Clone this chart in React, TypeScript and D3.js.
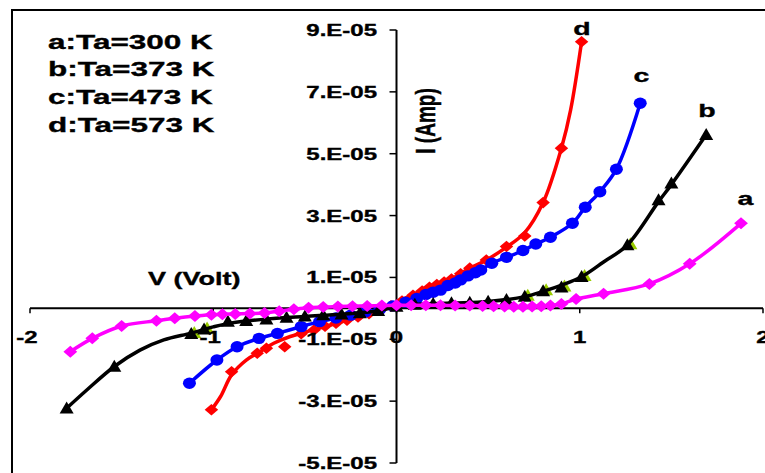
import React from 'react';
import * as d3 from 'd3';

// ---------- data (I in units of 1E-05 A, V in volt) ----------
const xTicks = [-2, -1, 0, 1, 2];
const yTicks = [-5, -3, -1, 1, 3, 5, 7, 9];
const yTickLabels = ['-5.E-05', '-3.E-05', '-1.E-05', '1.E-05', '3.E-05', '5.E-05', '7.E-05', '9.E-05'];
const legendLabels = ['a:Ta=300 K', 'b:Ta=373 K', 'c:Ta=473 K', 'd:Ta=573 K'];
const curveNames = ['a', 'b', 'c', 'd'];

// a: 300 K (magenta diamonds)
const aV = [-1.78, -1.66, -1.50, -1.31, -1.21, -1.10, -1.01, -0.95, -0.88, -0.80, -0.72, -0.64, -0.56, -0.48, -0.40, -0.32, -0.24, -0.16, -0.08, 0.00, 0.08, 0.16, 0.24, 0.32, 0.40, 0.47, 0.53, 0.59, 0.64, 0.69, 0.74, 0.79, 0.84, 0.90, 0.98, 1.13, 1.38, 1.60, 1.88];
const aI = [-1.40, -0.97, -0.57, -0.40, -0.32, -0.25, -0.21, -0.19, -0.18, -0.17, -0.15, -0.09, -0.03, 0.02, 0.04, 0.06, 0.07, 0.08, 0.09, 0.10, 0.10, 0.10, 0.10, 0.09, 0.09, 0.08, 0.07, 0.06, 0.05, 0.05, 0.06, 0.07, 0.09, 0.14, 0.30, 0.47, 0.79, 1.44, 2.75];

// b: 373 K (black triangles)
const bV = [-1.80, -1.54, -1.12, -1.05, -0.92, -0.82, -0.71, -0.60, -0.50, -0.40, -0.30, -0.20, -0.10, 0.00, 0.10, 0.20, 0.30, 0.40, 0.50, 0.60, 0.70, 0.80, 0.90, 1.01, 1.26, 1.43, 1.50, 1.69];
const bI = [-3.23, -1.88, -0.82, -0.68, -0.43, -0.40, -0.35, -0.30, -0.26, -0.22, -0.19, -0.15, -0.08, 0.06, 0.12, 0.15, 0.17, 0.19, 0.22, 0.28, 0.38, 0.56, 0.68, 1.02, 2.05, 3.50, 4.04, 5.61];
const bLineV = [-1.80, -1.69, -1.54, -1.40, -1.27, -1.12, -1.00, -0.90, -0.70, -0.50, -0.30, -0.10, 0.00, 0.10, 0.30, 0.50, 0.70, 0.80, 0.90, 1.01, 1.13, 1.26, 1.43, 1.50, 1.69];
const bLineI = [-3.23, -2.64, -1.88, -1.35, -1.02, -0.80, -0.60, -0.47, -0.34, -0.26, -0.19, -0.08, 0.06, 0.12, 0.17, 0.22, 0.38, 0.55, 0.75, 1.02, 1.50, 2.05, 3.45, 4.00, 5.61];
// yellow-green triangles peeking out behind some black ones
const gV = [-1.12, -1.05, 0.70, 0.80, 0.90, 1.01, 1.26];
const gI = [-0.82, -0.68, 0.38, 0.56, 0.68, 1.02, 2.05];

// c: 473 K (blue circles)
const cV = [-1.13, -0.98, -0.87, -0.75, -0.65, -0.52, -0.42, -0.33, -0.25, -0.17, -0.09, -0.02, 0.05, 0.11, 0.16, 0.20, 0.24, 0.28, 0.32, 0.35, 0.39, 0.43, 0.46, 0.52, 0.60, 0.69, 0.76, 0.84, 0.96, 1.03, 1.11, 1.20, 1.33];
const cI = [-2.42, -1.67, -1.24, -0.97, -0.81, -0.59, -0.43, -0.31, -0.22, -0.12, -0.03, 0.08, 0.20, 0.32, 0.45, 0.52, 0.59, 0.74, 0.82, 0.92, 1.05, 1.15, 1.24, 1.46, 1.65, 1.87, 2.08, 2.30, 2.75, 3.27, 3.77, 4.50, 6.63];

// d: 573 K (red diamonds)
const dV = [-1.01, -0.90, -0.76, -0.71, -0.61, -0.52, -0.45, -0.39, -0.33, -0.27, -0.21, -0.15, -0.09, -0.03, 0.03, 0.09, 0.14, 0.18, 0.22, 0.26, 0.30, 0.35, 0.40, 0.49, 0.60, 0.70, 0.80, 0.90, 1.01];
const dI = [-3.28, -2.05, -1.45, -1.29, -1.24, -0.82, -0.70, -0.58, -0.48, -0.38, -0.28, -0.17, -0.06, 0.08, 0.24, 0.42, 0.56, 0.68, 0.77, 0.85, 0.95, 1.12, 1.30, 1.56, 2.00, 2.34, 3.42, 5.18, 8.62];
const dLineV = [-1.01, -0.96, -0.90, -0.82, -0.745, -0.67, -0.58, -0.47, -0.36, -0.25, -0.13, -0.04, 0.09, 0.18, 0.30, 0.40, 0.49, 0.60, 0.70, 0.80, 0.90, 0.95, 1.01];
const dLineI = [-3.28, -2.85, -2.15, -1.67, -1.40, -1.13, -0.91, -0.72, -0.54, -0.35, -0.14, 0.08, 0.45, 0.68, 0.96, 1.30, 1.56, 1.98, 2.45, 3.42, 5.18, 6.41, 8.62];

// ---------- layout ----------
const W = 765, H = 473;
const SX = 1.5; // horizontal stretch of the original picture
const FONT = "'Liberation Sans', Arial, Helvetica, sans-serif";

const x = d3.scaleLinear().domain([-2, 2]).range([30, 763]);
const y = d3.scaleLinear().domain([-5, 9]).range([463, 30]);

const zip = (vs: number[], is: number[]) => vs.map((v, i) => [v, is[i]] as [number, number]);
const lineGen = d3.line<[number, number]>().x(d => x(d[0])).y(d => y(d[1])).curve(d3.curveCatmullRom.alpha(0.5));

const diamond = (hw: number, hh: number) => `M0,${-hh}L${hw},0L0,${hh}L${-hw},0Z`;
const triangle = 'M0,-6.8L7,5.2L-7,5.2Z';

function T(props: { x: number; y: number; size: number; anchor?: string; rotate?: boolean; children: React.ReactNode }) {
  const { x: tx, y: ty, size, anchor = 'start', rotate = false, children } = props;
  return (
    <g transform={`translate(${tx},${ty}) scale(${SX},1)${rotate ? ' rotate(-90)' : ''}`}>
      <text textAnchor={anchor as any} fontSize={size} fontWeight="bold" fontFamily={FONT} fill="#000" stroke="#000" strokeWidth={0.35}>{children}</text>
    </g>
  );
}

export default function App() {
  const x0 = x(0), y0 = y(0);
  const aPts = zip(aV, aI), bPts = zip(bV, bI), cPts = zip(cV, cI), dPts = zip(dV, dI);
  const gPts = zip(gV, gI);
  return (
    <svg width={W} height={H} style={{ position: 'absolute', left: 0, top: 0, background: '#fff' }}>
      <rect x={0} y={0} width={W} height={H} fill="#fff" />
      {/* outer frame */}
      <rect x={12} y={10} width={900} height={600} fill="none" stroke="#000" strokeWidth={2} />

      {/* axes */}
      <line x1={x(-2)} x2={x(2)} y1={y0} y2={y0} stroke="#000" strokeWidth={2} />
      <line x1={x0} x2={x0} y1={y(9)} y2={y(-5)} stroke="#000" strokeWidth={2} />
      {xTicks.map(t => (
        <line key={'xt' + t} x1={x(t)} x2={x(t)} y1={y0} y2={y0 + 5} stroke="#000" strokeWidth={1.5} />
      ))}
      {yTicks.map(t => (
        <line key={'yt' + t} x1={x0 - 7} x2={x0} y1={y(t)} y2={y(t)} stroke="#000" strokeWidth={1.5} />
      ))}

      {/* series: d red */}
      <path d={lineGen(zip(dLineV, dLineI)) || ''} fill="none" stroke="#FF0000" strokeWidth={3.5} />
      {dPts.map((p, i) => (
        <path key={'d' + i} d={diamond(4.5, 5.8)} transform={`translate(${x(p[0])},${y(p[1])}) scale(${SX},1)`} fill="#FF0000" />
      ))}

      {/* series: c blue */}
      <path d={lineGen(cPts) || ''} fill="none" stroke="#0000FF" strokeWidth={3.5} />
      {cPts.map((p, i) => (
        <ellipse key={'c' + i} cx={x(p[0])} cy={y(p[1])} rx={6.5} ry={5.7} fill="#0000FF" />
      ))}

      {/* series: b black */}
      {gPts.map((p, i) => (
        <path key={'g' + i} d={triangle} transform={`translate(${x(p[0]) + 3},${y(p[1]) - 1})`} fill="#99CC00" />
      ))}
      <path d={lineGen(zip(bLineV, bLineI)) || ''} fill="none" stroke="#000" strokeWidth={3.5} />
      {bPts.map((p, i) => (
        <path key={'b' + i} d={triangle} transform={`translate(${x(p[0])},${y(p[1])})`} fill="#000" />
      ))}

      {/* series: a magenta */}
      <path d={lineGen(aPts) || ''} fill="none" stroke="#FF00FF" strokeWidth={3.5} />
      {aPts.map((p, i) => (
        <path key={'a' + i} d={diamond(4.6, 6)} transform={`translate(${x(p[0])},${y(p[1])}) scale(${SX},1)`} fill="#FF00FF" />
      ))}

      {/* tick labels */}
      {yTicks.map((t, i) => (
        <T key={'yl' + t} x={377} y={y(t) + 6} size={16} anchor="end">{yTickLabels[i]}</T>
      ))}
      {xTicks.map(t => (
        <T key={'xl' + t} x={x(t) - (t < 0 ? 3 : 0)} y={343} size={16} anchor="middle">{String(t)}</T>
      ))}

      {/* axis titles */}
      <T x={148} y={285} size={18}>V (Volt)</T>
      <T x={435} y={121} size={19} anchor="middle" rotate>I (Amp)</T>

      {/* legend */}
      {legendLabels.map((l, i) => (
        <T key={'lg' + i} x={48} y={48.5 + i * 27.8} size={21}>{l}</T>
      ))}

      {/* curve labels */}
      <T x={745.5} y={205} size={19} anchor="middle">{curveNames[0]}</T>
      <T x={707} y={117} size={19} anchor="middle">{curveNames[1]}</T>
      <T x={641.5} y={82} size={19} anchor="middle">{curveNames[2]}</T>
      <T x={582} y={35} size={19} anchor="middle">{curveNames[3]}</T>
    </svg>
  );
}
